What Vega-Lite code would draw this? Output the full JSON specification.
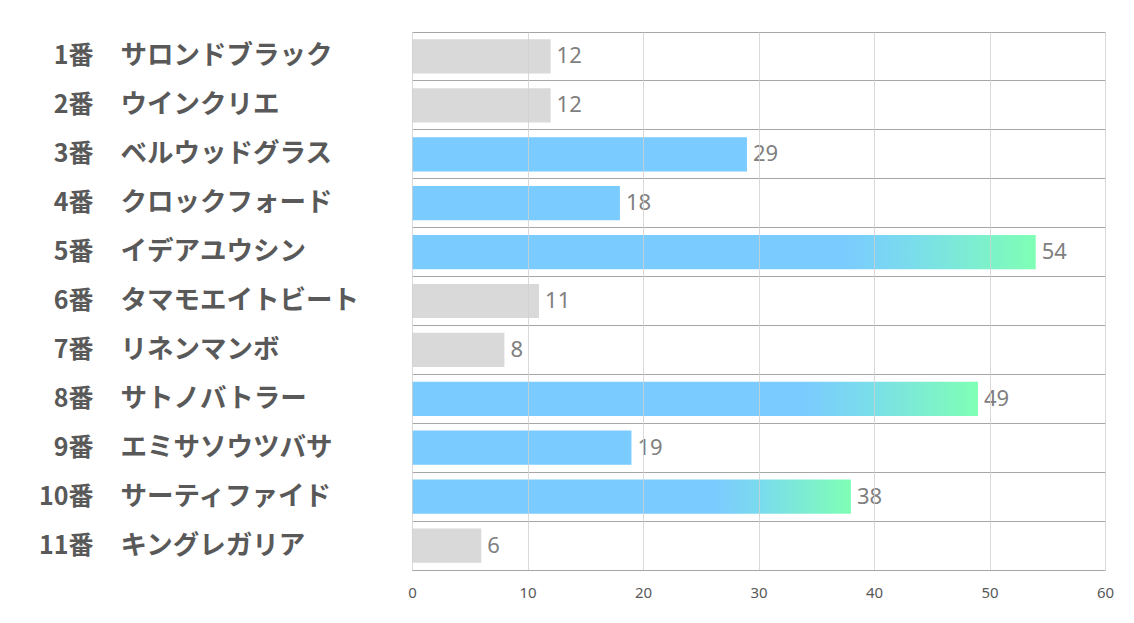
{
  "$schema": "https://vega.github.io/schema/vega-lite/v6.json",
  "width": 693,
  "height": 538,
  "autosize": {"type": "none"},
  "padding": {"left": 412, "top": 32, "right": 29, "bottom": 53},
  "background": "white",
  "config": {"view": {"stroke": null}},
  "data": {"values": [
    {"label": "1番|サロンドブラック", "value": 12},
    {"label": "2番|ウインクリエ", "value": 12},
    {"label": "3番|ベルウッドグラス", "value": 29},
    {"label": "4番|クロックフォード", "value": 18},
    {"label": "5番|イデアユウシン", "value": 54},
    {"label": "6番|タマモエイトビート", "value": 11},
    {"label": "7番|リネンマンボ", "value": 8},
    {"label": "8番|サトノバトラー", "value": 49},
    {"label": "9番|エミサソウツバサ", "value": 19},
    {"label": "10番|サーティファイド", "value": 38},
    {"label": "11番|キングレガリア", "value": 6}
  ]},
  "encoding": {
    "y": {"field": "label", "type": "nominal", "sort": null,
      "scale": {"paddingInner": 0, "paddingOuter": 0,
        "domain": ["1番|サロンドブラック", "2番|ウインクリエ", "3番|ベルウッドグラス", "4番|クロックフォード", "5番|イデアユウシン", "6番|タマモエイトビート", "7番|リネンマンボ", "8番|サトノバトラー", "9番|エミサソウツバサ", "10番|サーティファイド", "11番|キングレガリア"]}},
    "x": {"field": "value", "type": "quantitative",
      "scale": {"domain": [0, 60], "nice": false},
      "axis": {"values": [0, 10, 20, 30, 40, 50, 60], "title": null, "ticks": false,
        "grid": true, "gridColor": "#d0d0d0", "gridOpacity": 0.8, "zindex": 1,
        "domainColor": "#a6a6a6", "labelFont": "Noto Sans", "labelFontSize": 15,
        "labelColor": "#595959", "labelPadding": 15, "labelFlush": false, "labelBound": false}}
  },
  "resolve": {"axis": {"y": "independent"}},
  "layer": [
    {
      "layer": [
        {"transform": [{"filter": "datum.value < 15"}],
         "mark": {"type": "bar", "color": "#d9d9d9", "height": {"band": 0.7}}},
        {"transform": [{"filter": "datum.value >= 15 && datum.value < 35"}],
         "mark": {"type": "bar", "color": "#7acbff", "height": {"band": 0.7}}},
        {"transform": [{"filter": "datum.value >= 35"}],
         "mark": {"type": "bar", "height": {"band": 0.7},
           "color": {"gradient": "linear", "x1": 0, "x2": 1, "y1": 0, "y2": 0,
             "stops": [{"offset": 0, "color": "#7acbff"}, {"offset": 0.69, "color": "#7acbff"}, {"offset": 0.8, "color": "#7adcec"}, {"offset": 1, "color": "#7fffb5"}]}}}
      ],
      "encoding": {
        "y": {"field": "label", "type": "nominal", "sort": null,
          "axis": {"orient": "left", "title": null, "ticks": false, "domain": false,
            "grid": true, "bandPosition": 0, "gridColor": "#a6a6a6", "gridWidth": 1,
            "labelExpr": "split(datum.label, '|')[1]", "labelAlign": "left", "labelLimit": 400,
            "labelPadding": 292, "labelFont": "Noto Sans CJK JP", "labelFontWeight": "bold",
            "labelFontSize": 26.5, "labelColor": "#595959"}}
      }
    },
    {
      "mark": {"type": "text", "align": "left", "baseline": "middle", "dx": 6,
        "font": "Noto Sans", "fontSize": 22, "color": "#7f7f7f"},
      "encoding": {
        "text": {"field": "value", "type": "quantitative"},
        "y": {"field": "label", "type": "nominal", "sort": null,
          "axis": {"orient": "left", "title": null, "ticks": false, "domain": false,
            "grid": false, "labelExpr": "split(datum.label, '|')[0]", "labelAlign": "right", "labelLimit": 400,
            "labelPadding": 319, "labelFont": "Noto Sans CJK JP", "labelFontWeight": "bold",
            "labelFontSize": 25, "labelColor": "#595959"}}
      }
    }
  ]
}
